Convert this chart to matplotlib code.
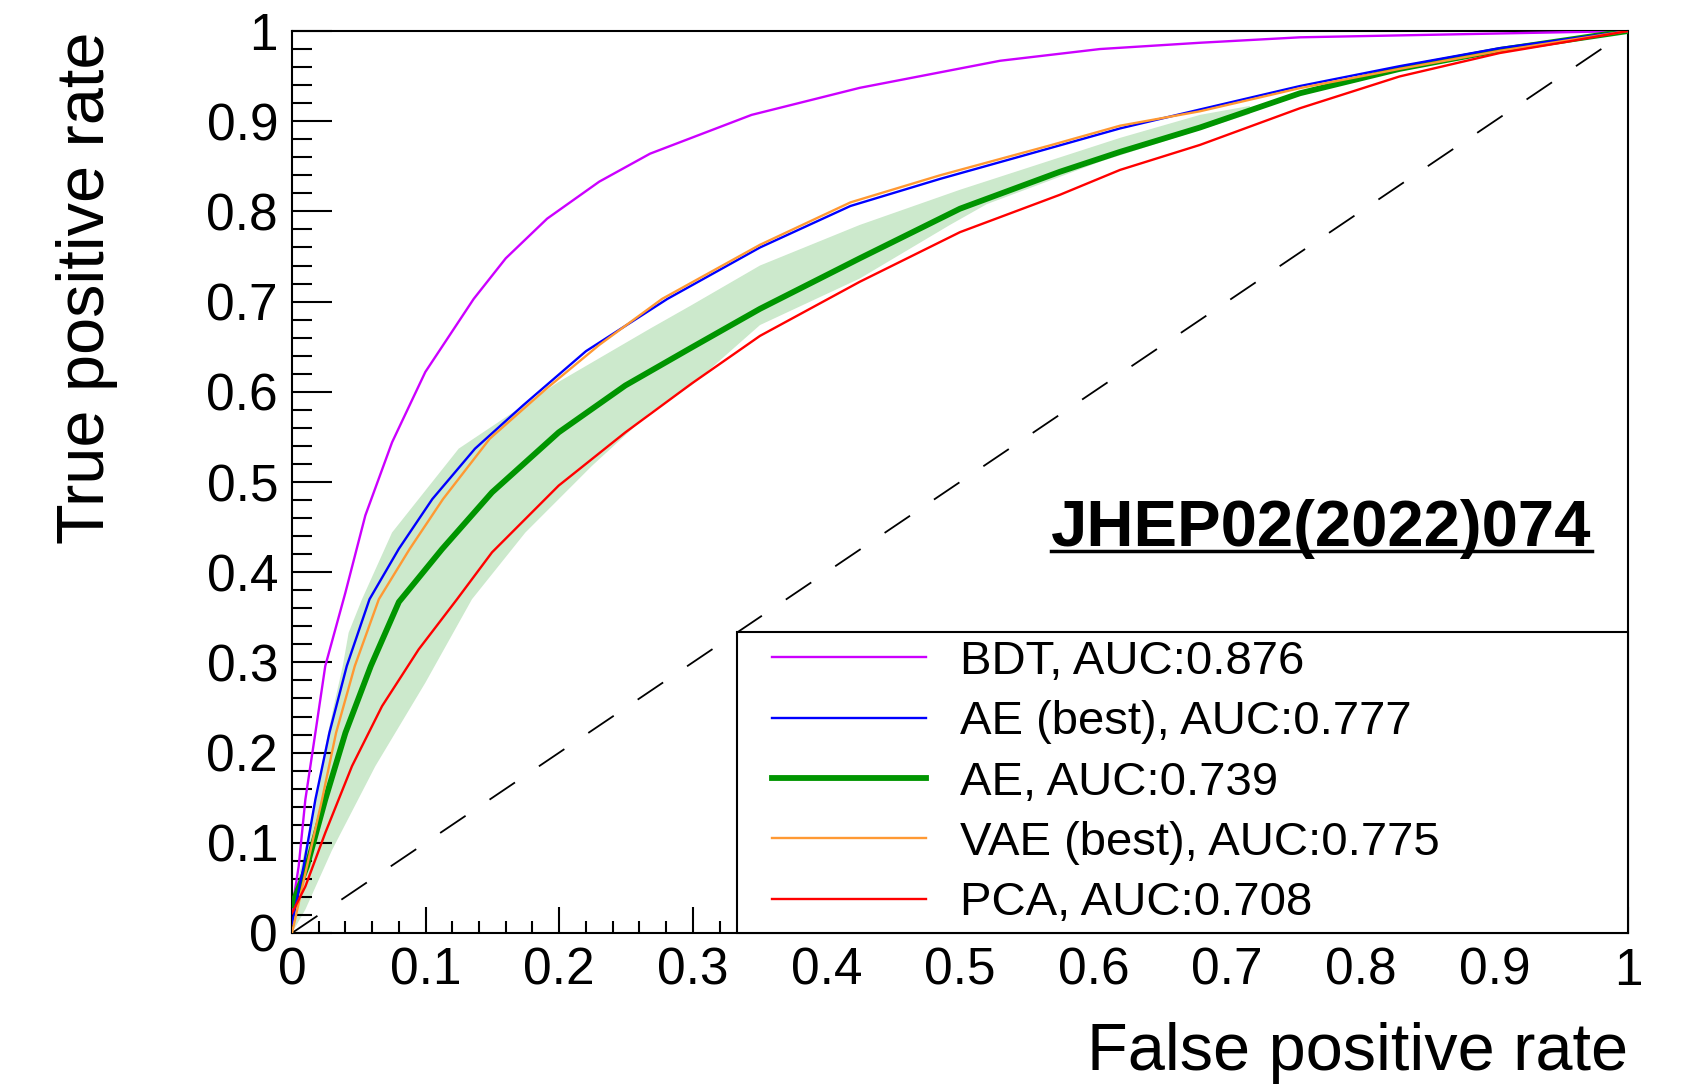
import matplotlib
matplotlib.use("Agg")
import matplotlib.pyplot as plt
import numpy as np
from matplotlib.ticker import MultipleLocator, FuncFormatter
from matplotlib.patches import Rectangle

# ROC curves
bdt_fpr = [0, 0.005, 0.010, 0.0175, 0.0249, 0.0399, 0.0549, 0.0749, 0.0998, 0.136, 0.16, 0.191, 0.23, 0.268, 0.344, 0.425, 0.53, 0.6048, 0.68, 0.7545, 1.0]
bdt_tpr = [0.026, 0.074, 0.148, 0.222, 0.296, 0.377, 0.463, 0.544, 0.622, 0.703, 0.748, 0.792, 0.833, 0.864, 0.907, 0.937, 0.967, 0.980, 0.987, 0.993, 1.0]

ae_best_fpr = [0, 0.0087, 0.0175, 0.028, 0.041, 0.058, 0.080, 0.105, 0.137, 0.173, 0.22, 0.281, 0.3503, 0.418, 0.485, 0.567, 0.6198, 0.6796, 0.7545, 0.829, 0.904, 1.0]
ae_best_tpr = [0.01, 0.074, 0.148, 0.222, 0.296, 0.370, 0.426, 0.481, 0.537, 0.585, 0.645, 0.703, 0.760, 0.806, 0.836, 0.870, 0.892, 0.913, 0.939, 0.961, 0.981, 1.0]

ae_fpr = [0, 0.0112, 0.0249, 0.040, 0.059, 0.080, 0.1123, 0.1497, 0.1996, 0.2495, 0.299, 0.3503, 0.425, 0.5, 0.5749, 0.6198, 0.6796, 0.7545, 0.829, 0.904, 1.0]
ae_tpr = [0.031, 0.074, 0.148, 0.222, 0.296, 0.367, 0.4256, 0.4885, 0.555, 0.607, 0.649, 0.692, 0.748, 0.803, 0.844, 0.866, 0.893, 0.931, 0.958, 0.979, 1.0]

ae_band_up_fpr = [0, 0.0125, 0.027, 0.0324, 0.038, 0.0424, 0.0524, 0.0749, 0.1248, 0.1996, 0.268, 0.299, 0.3503, 0.425, 0.5, 0.6198, 0.6796, 0.717]
ae_band_up_tpr = [0.03, 0.111, 0.222, 0.259, 0.296, 0.333, 0.370, 0.444, 0.537, 0.611, 0.670, 0.696, 0.740, 0.785, 0.824, 0.8815, 0.907, 0.917]
ae_band_lo_fpr = [0, 0.01, 0.03, 0.0624, 0.0998, 0.1347, 0.1747, 0.2246, 0.268, 0.299, 0.3503, 0.425, 0.4925, 0.52, 0.6048, 0.717]
ae_band_lo_tpr = [0.0, 0.026, 0.092, 0.185, 0.2774, 0.370, 0.444, 0.518, 0.577, 0.607, 0.674, 0.7256, 0.785, 0.808, 0.855, 0.908]

vae_best_fpr = [0, 0.0112, 0.0225, 0.033, 0.047, 0.065, 0.088, 0.113, 0.148, 0.19, 0.23, 0.277, 0.3503, 0.418, 0.485, 0.567, 0.6198, 0.6796, 0.7545, 0.829, 0.904, 1.0]
vae_best_tpr = [0.0, 0.074, 0.148, 0.222, 0.296, 0.370, 0.4256, 0.481, 0.548, 0.603, 0.652, 0.703, 0.763, 0.810, 0.840, 0.873, 0.895, 0.911, 0.9367, 0.958, 0.978, 1.0]

pca_fpr = [0, 0.00998, 0.0249, 0.0449, 0.0674, 0.0948, 0.1235, 0.1497, 0.1996, 0.2495, 0.299, 0.3503, 0.425, 0.5, 0.5749, 0.6198, 0.6796, 0.7545, 0.829, 0.904, 0.954, 1.0]
pca_tpr = [0.022, 0.0515, 0.111, 0.185, 0.2515, 0.3144, 0.370, 0.422, 0.496, 0.555, 0.609, 0.662, 0.722, 0.777, 0.8185, 0.846, 0.8737, 0.9144, 0.9496, 0.9756, 0.988, 1.0]

diag = [0, 1]

labels = ["BDT, AUC:0.876", "AE (best), AUC:0.777", "AE, AUC:0.739",
          "VAE (best), AUC:0.775", "PCA, AUC:0.708"]
stamp = "JHEP02(2022)074"

plt.rcParams['font.family'] = ['Liberation Sans', 'DejaVu Sans']

W, H = 1685, 1084
L, R, T, B = 292, 1628, 31, 933


def ax_x(px):
    return (px - L) / (R - L)


def ax_y(py):
    return (B - py) / (B - T)


fig = plt.figure(figsize=(W / 100, H / 100), dpi=100)
ax = fig.add_axes([L / W, 1 - B / H, (R - L) / W, (B - T) / H])

ax.fill(np.concatenate([ae_band_up_fpr, ae_band_lo_fpr[::-1]]),
        np.concatenate([ae_band_up_tpr, ae_band_lo_tpr[::-1]]),
        color='#cce9cc', lw=0, zorder=1)
ax.plot(diag, diag, color='black', lw=1.3, dashes=(17, 16), zorder=2)

h_bdt, = ax.plot(bdt_fpr, bdt_tpr, color='#cc00ff', lw=1.7, zorder=3)
h_ae, = ax.plot(ae_fpr, ae_tpr, color='#009500', lw=4.2, zorder=3)
h_aeb, = ax.plot(ae_best_fpr, ae_best_tpr, color='#0000ff', lw=1.7, zorder=3)
h_vae, = ax.plot(vae_best_fpr, vae_best_tpr, color='#ff9933', lw=1.7, zorder=3)
h_pca, = ax.plot(pca_fpr, pca_tpr, color='#ff0000', lw=1.7, zorder=3)

ax.set_xlim(0, 1)
ax.set_ylim(0, 1)

for axis in (ax.xaxis, ax.yaxis):
    axis.set_major_locator(MultipleLocator(0.1))
    axis.set_minor_locator(MultipleLocator(0.02))
    axis.set_major_formatter(FuncFormatter(lambda v, p: '%g' % round(v, 2)))

ax.tick_params(which='both', direction='in', top=False, right=False, width=1.5,
               labelsize=37, pad=10)
ax.tick_params(axis='y', which='major', length=29)
ax.tick_params(axis='y', which='minor', length=14.4)
ax.tick_params(axis='x', which='major', length=19)
ax.tick_params(axis='x', which='minor', length=9)
for s in ax.spines.values():
    s.set_linewidth(1.5)

ax.set_xlabel("False positive rate", fontsize=48, ha='right', va='top')
ax.xaxis.set_label_coords(1.0, ax_y(1022))
ax.set_ylabel("True positive rate", fontsize=48, ha='right', va='bottom')
ax.yaxis.set_label_coords(ax_x(118), 1.0)

# legend box sitting on the bottom-right corner
box = Rectangle((ax_x(737), 0), 1 - ax_x(737), ax_y(632), transform=ax.transAxes,
                facecolor='white', edgecolor='black', lw=1.5, zorder=5, clip_on=False)
ax.add_patch(box)
leg = ax.legend([h_bdt, h_aeb, h_ae, h_vae, h_pca], labels, loc='upper left',
                bbox_to_anchor=(ax_x(772), ax_y(640)), frameon=False, fontsize=34,
                handlelength=3.26, handletextpad=0.72, labelspacing=0.345,
                borderpad=0, borderaxespad=0)
leg.set_zorder(6)

txt = ax.text(ax_x(1051), ax_y(546), stamp, fontsize=47, fontweight='bold',
              ha='left', va='baseline', transform=ax.transAxes, zorder=6)
fig.canvas.draw()
bb = txt.get_window_extent().transformed(ax.transAxes.inverted())
ax.plot([bb.x0, bb.x1], [ax_y(551), ax_y(551)], color='black', lw=2.5,
        transform=ax.transAxes, zorder=6, clip_on=False)

fig.savefig("out.png", dpi=100)
